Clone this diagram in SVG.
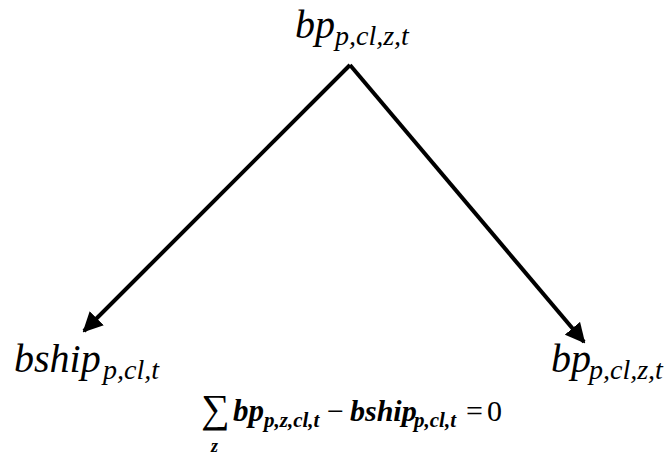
<svg xmlns="http://www.w3.org/2000/svg" width="669" height="455" viewBox="0 0 669 455">
<defs>
<style>
text{font-family:'Liberation Serif','Times New Roman','DejaVu Serif',serif;fill:#000}
.i{font-style:italic}
.big{font-size:40px}
.sub{font-size:28px}
.b{font-weight:bold;font-style:italic}
.c{stroke:#000;stroke-width:4;fill:none}
</style>
<marker id="ah" viewBox="0 0 10 10" refX="9" refY="5" markerWidth="5" markerHeight="5" markerUnits="strokeWidth" orient="auto">
<path d="M0,0 L10,5 L0,10 z" fill="#000"/>
</marker>
</defs>
<rect width="669" height="455" fill="#fff"/>
<g id="connectors">
<line class="c" x1="350" y1="65" x2="84" y2="331" marker-end="url(#ah)"/>
<line class="c" x1="350" y1="65" x2="584" y2="342" marker-end="url(#ah)"/>
</g>
<g id="top">
<text class="i big" x="295" y="38">bp</text>
<text class="i sub" x="335" y="45">p,cl,z,t</text>
</g>
<g id="left">
<text class="i big" x="14" y="372">bship</text>
<text class="i sub" x="103" y="379">p,cl,t</text>
</g>
<g id="right">
<text class="i big" x="551" y="372">bp</text>
<text class="i sub" x="589" y="379">p,cl,z,t</text>
</g>
<g id="equation">
<text x="201" y="422" font-size="40" font-family="'DejaVu Serif',serif">∑</text>
<text class="b" x="211" y="452" font-size="18">z</text>
<text class="b" x="233" y="421" font-size="31">bp</text>
<text class="b" x="264" y="427" font-size="21">p,z,cl,t</text>
<text x="327" y="421" font-size="30">−</text>
<text class="b" x="350" y="421" font-size="30">bship</text>
<text class="b" x="414" y="427" font-size="21">p,cl,t</text>
<text x="466" y="421" font-size="30">=</text>
<text x="487" y="421" font-size="30">0</text>
</g>
</svg>
